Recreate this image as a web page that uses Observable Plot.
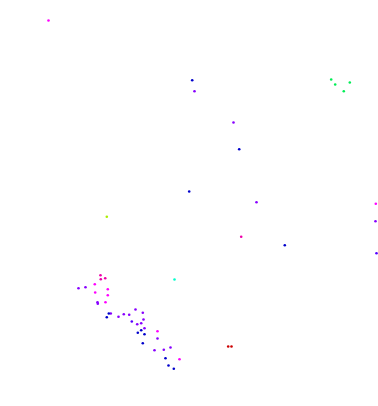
<!DOCTYPE html>
<html>
<head>
<meta charset="utf-8">
<script src="https://cdn.jsdelivr.net/npm/d3@7"></script>
<script src="https://cdn.jsdelivr.net/npm/@observablehq/plot@0.6"></script>
<style>
  html, body { margin: 0; padding: 0; background: #fff; }
</style>
</head>
<body>
<div id="chart"></div>
<script>
const xValues = [
  48, 375.3, 94.3, 107.3, 94.7, 107.3, 105, 157, 179,
  100, 104.7, 100.3, 240.7,
  194, 233, 256, 375, 78, 85, 97, 97.3, 135, 142.3, 110.3, 123.3, 118, 128.7, 143, 140.7, 136.7, 144, 157, 170, 163.3, 154,
  376, 131.3,
  191.7, 188.7, 238.7, 284.3, 108.3, 106.3, 140.7, 137.3, 144, 142.3, 165, 168, 173.3,
  330.7, 334.7, 349.3, 343.3,
  106.3,
  227.7, 231,
  174
];
const yValues = [
  386, 202.7, 122.3, 117.3, 114, 111.3, 104.3, 75.3, 47.3,
  131.3, 128.3, 127.3, 169.7,
  315.3, 284, 204.3, 185.3, 118.3, 119.3, 104.3, 102.7, 97, 93.7, 93, 92.3, 89.7, 91.7, 87, 83.3, 82.3, 78.3, 68, 59, 56.7, 56.3,
  153.3, 85,
  326.3, 215, 257.3, 161.3, 93, 89.3, 76.3, 73.7, 72.3, 63.3, 48.3, 41, 37.7,
  327, 322, 324, 315.3,
  189.7,
  60, 60,
  127
];
const groups = [
  "A","A","A","A","A","A","A","A","A",
  "B","B","B","B",
  "C","C","C","C","C","C","C","C","C","C","C","C","C","C","C","C","C","C","C","C","C","C",
  "D","D",
  "E","E","E","E","E","E","E","E","E","E","E","E","E",
  "F","F","F","F",
  "G",
  "H","H",
  "I"
];
const groupDomain = ["A","B","C","D","E","F","G","H","I"];
const groupColors = ["#ff00ff","#ee00aa","#8800ff","#5500ff","#0000cc","#00ee55","#aaee00","#cc0000","#00ffcc"];

const data = xValues.map((x, i) => ({x, y: yValues[i], g: groups[i]}));

const chart = Plot.plot({
  width: 378,
  height: 406,
  margin: 0,
  x: {domain: [0, 378], axis: null},
  y: {domain: [0, 406], axis: null},
  color: {domain: groupDomain, range: groupColors},
  marks: [
    Plot.dot(data, {x: "x", y: "y", fill: "g", r: 1.3, stroke: null})
  ]
});
document.getElementById("chart").append(chart);
</script>
</body>
</html>
